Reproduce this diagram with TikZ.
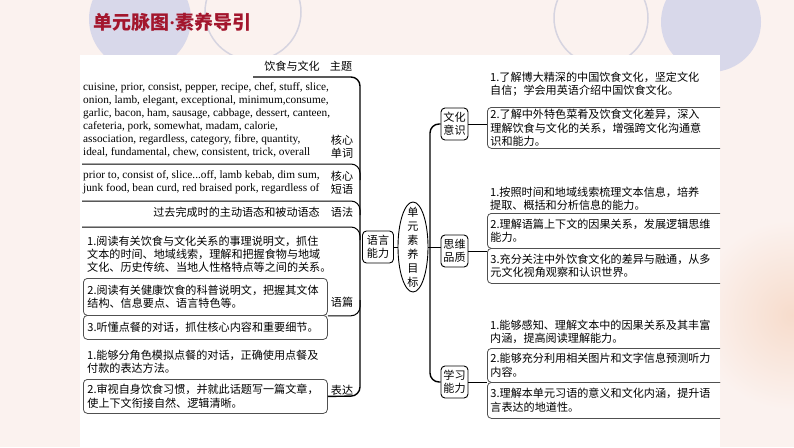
\documentclass[tikz,border=0pt]{standalone}
\usepackage{fontspec}
\setmainfont{Liberation Serif}
\newfontfamily\cjk{Noto Sans CJK SC}
\usetikzlibrary{shapes.geometric, positioning}

\definecolor{bgpink}{RGB}{251,242,239}
\definecolor{lav}{RGB}{216,216,234}
\definecolor{ringgray}{RGB}{214,212,224}
\definecolor{titlered}{RGB}{163,22,45}
\definecolor{boxgray}{RGB}{80,80,80}
\definecolor{peach}{RGB}{247,220,204}

\newcommand{\zh}{\cjk\fontsize{11.1}{13.4}\selectfont}
\newcommand{\en}{\fontsize{11.3}{13}\selectfont}

\begin{document}
\begin{tikzpicture}[x=1pt, y=-1pt, node distance=0.3cm, auto]

    % Define styles for the different parts
    \tikzstyle{plain} = [font=\zh, align=left, inner sep=0pt, anchor=north west]
    \tikzstyle{lbox} = [draw=boxgray, line width=0.8pt, rounded corners=4pt, font=\zh, align=left, text width=236pt, inner xsep=4pt, inner ysep=0pt, anchor=north west]
    \tikzstyle{rbox} = [lbox, inner xsep=3pt]
    \tikzstyle{tag} = [font=\zh, align=center, inner sep=0pt]
    \tikzstyle{topic} = [draw, line width=0.9pt, rounded corners=4pt, font=\zh, align=center, inner sep=1pt, minimum width=27pt, minimum height=32pt]
    \tikzstyle{trunk} = [line width=1.4pt, rounded corners=9pt]
    \tikzstyle{sep} = [line width=1pt, rounded corners=9pt]

    % background
    \useasboundingbox (0,0) rectangle (794,447);
    \begin{scope}
        \clip (0,0) rectangle (794,447);
        \fill[bgpink] (0,0) rectangle (794,447);
        \shade[inner color=peach, outer color=bgpink] (792,315) circle (95pt);
        \fill[lav] (140,19) circle (51pt);
        \draw[ringgray, line width=1.5pt] (253,12) circle (48pt);
        \draw[ringgray, line width=1.5pt] (601,18) circle (47pt);
        \fill[lav] (711,22) circle (50pt);
        \fill[white] (80,55) rectangle (720,447);
    \end{scope}
    \node (title) [anchor=west, inner sep=0pt, text=titlered, font=\cjk\bfseries\fontsize{19}{19}\selectfont] at (93,22) {单元脉图{\rmfamily\bfseries ·}素养导引};

    % language ability, left side
    \node (theme) [plain, anchor=north east] at (320,60.5) {饮食与文化};
    \node (themetag) [tag] at (341,66) {主题};
    \node (vocab) [plain, font=\en] at (83,82) {cuisine, prior, consist, pepper, recipe, chef, stuff, slice,\\onion, lamb, elegant, exceptional, minimum,consume,\\garlic, bacon, ham, sausage, cabbage, dessert, canteen,\\cafeteria, pork, somewhat, madam, calorie,\\association, regardless, category, fibre, quantity,\\ideal, fundamental, chew, consistent, trick, overall};
    \node (vocabtag) [tag] at (342,147) {核心\\单词};
    \node (phrase) [plain, font=\en] at (83,170) {prior to, consist of, slice...off, lamb kebab, dim sum,\\junk food, bean curd, red braised pork, regardless of};
    \node (phrasetag) [tag] at (342,183) {核心\\短语};
    \node (gram) [plain, anchor=north east] at (320,207) {过去完成时的主动语态和被动语态};
    \node (gramtag) [tag] at (342,212) {语法};
    \node (read1) [plain] at (87,235.5) {1.阅读有关饮食与文化关系的事理说明文，抓住\\文本的时间、地域线索，理解和把握食物与地域\\文化、历史传统、当地人性格特点等之间的关系。};
    \node (read2) [lbox, minimum height=37pt] at (83,278) {2.阅读有关健康饮食的科普说明文，把握其文体\\结构、信息要点、语言特色等。};
    \node (read3) [lbox, minimum height=24pt] at (83,315) {3.听懂点餐的对话，抓住核心内容和重要细节。};
    \node (readtag) [tag] at (342,302) {语篇};
    \node (expr1) [plain] at (87,349.5) {1.能够分角色模拟点餐的对话，正确使用点餐及\\付款的表达方法。};
    \node (expr2) [lbox, minimum height=34pt] at (83,379) {2.审视自身饮食习惯，并就此话题写一篇文章，\\使上下文衔接自然、逻辑清晰。};
    \node (exprtag) [tag] at (342,390) {表达};

    % centre
    \node (lang) [topic, minimum width=31pt] at (378,247) {语言\\能力};
    \node (goal) [draw, ellipse, line width=0.9pt, inner sep=0pt, minimum width=30pt, minimum height=90pt] at (413,247) {};
    \node (goaltext) [tag, font=\cjk\fontsize{11.1}{14}\selectfont] at (goal.center) {单\\元\\素\\养\\目\\标};

    % right side
    \node (culture) [topic] at (454.5,124) {文化\\意识};
    \node (thinking) [topic] at (454.5,251) {思维\\品质};
    \node (learning) [topic] at (454.5,382) {学习\\能力};
    \node (culture1) [plain] at (490,71.5) {1.了解博大精深的中国饮食文化，坚定文化\\自信；学会用英语介绍中国饮食文化。};
    \node (thinking1) [plain] at (490,186.5) {1.按照时间和地域线索梳理文本信息，培养\\提取、概括和分析信息的能力。};
    \node (learning1) [plain] at (490,319.5) {1.能够感知、理解文本中的因果关系及其丰富\\内涵，提高阅读理解能力。};
    \begin{scope}
        \clip (80,55) rectangle (720,447);
        \node (culture2) [rbox, minimum height=41pt] at (487,107) {2.了解中外特色菜肴及饮食文化差异，深入\\理解饮食与文化的关系，增强跨文化沟通意\\识和能力。};
        \node (thinking2) [rbox, minimum height=35pt] at (487,213) {2.理解语篇上下文的因果关系，发展逻辑思维\\能力。};
        \node (thinking3) [rbox, minimum height=35pt] at (487,248) {3.充分关注中外饮食文化的差异与融通，从多\\元文化视角观察和认识世界。};
        \node (learning2) [rbox, minimum height=34pt] at (487,348) {2.能够充分利用相关图片和文字信息预测听力\\内容。};
        \node (learning3) [rbox, minimum height=36pt] at (487,382) {3.理解本单元习语的意义和文化内涵，提升语\\言表达的地道性。};
    \end{scope}

    % left brace and branches
    \coordinate (themeline) at (253,77);
    \coordinate (vocabline) at (82,164);
    \coordinate (phraseline) at (82,201);
    \coordinate (gramline) at (82,227);
    \draw[trunk] (themeline) -| (360,396) -- (expr2.east);
    \draw[sep] (vocabline) -| (360,180);
    \draw[sep] (phraseline) -| (360,215);
    \draw[sep] (gramline) -| (360,240);
    \draw[sep] (read2.south east) -| (360,300);
    \draw[line width=1pt] (lang) -- (goal);

    % right brace and branches
    \draw[trunk] (culture.west) -| (430,382) -- (learning.west);
    \draw[line width=1pt] (goal.east) -- (goal.east -| thinking.west);
    \draw[line width=1pt] (culture.east) -- (culture.east -| culture2.west);
    \draw[line width=1pt] (thinking.east) -- (thinking.east -| thinking2.west);
    \draw[line width=1pt] (learning.east) -- (learning.east -| learning2.west);

\end{tikzpicture}
\end{document}
